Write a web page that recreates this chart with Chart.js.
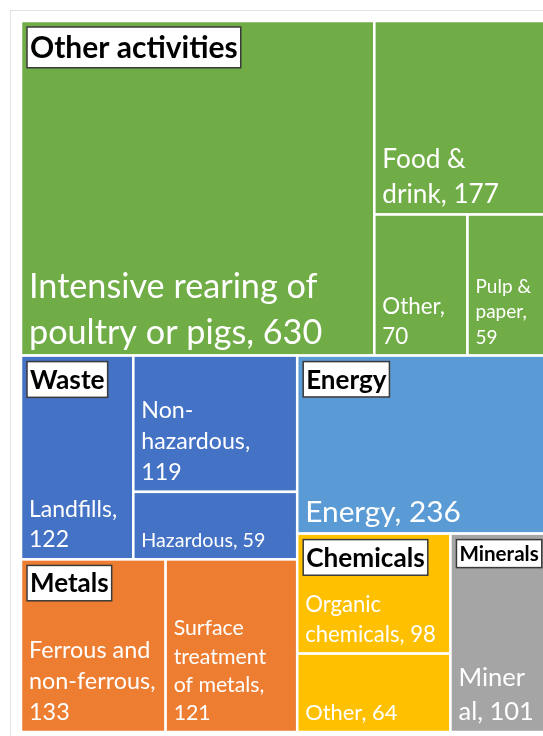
<!DOCTYPE html>
<html><head><meta charset="utf-8">
<script src="https://cdn.jsdelivr.net/npm/chart.js@4"></script>
<style>
html,body{margin:0;padding:0;background:#fff;overflow:hidden;width:543px;height:736px}
#frame{position:absolute;left:10px;top:10px;width:600px;height:800px;border:1px solid #e2e2e2}
#wrap{position:absolute;left:21px;top:21px;width:525px;height:711px}
</style></head><body>
<div id="frame"></div>
<div id="wrap"><canvas id="c"></canvas></div>
<script>
// ---- data ----
const groups = ["Other activities", "Waste", "Energy", "Metals", "Chemicals", "Minerals"];
const leafNames = ["Intensive rearing of\npoultry or pigs", "Food &\ndrink", "Other", "Pulp &\npaper",
  "Landfills", "Non-\nhazardous", "Hazardous", "Energy",
  "Ferrous and\nnon-ferrous", "Surface\ntreatment\nof metals",
  "Organic\nchemicals", "Other", "Miner\nal"];
const leafGroups = ["Other activities", "Other activities", "Other activities", "Other activities",
  "Waste", "Waste", "Waste", "Energy", "Metals", "Metals", "Chemicals", "Chemicals", "Minerals"];
const leafValues = [630, 177, 70, 59, 122, 119, 59, 236, 133, 121, 98, 64, 101];
const valueOnOwnLine = [false, false, true, true, true, true, false, false, true, true, false, false, false];

// ---- layout structure (split directions only) ----
const groupLayouts = {
  "Other activities": {dir: 'h', children: [0, {dir: 'v', children: [1, {dir: 'h', children: [2, 3]}]}]},
  "Waste": {dir: 'h', children: [4, {dir: 'v', children: [5, 6]}]},
  "Energy": 7,
  "Metals": {dir: 'h', children: [8, 9]},
  "Chemicals": {dir: 'v', children: [10, 11]},
  "Minerals": 12
};
const rootLayout = {dir: 'v', children: ["Other activities",
  {dir: 'h', children: [{dir: 'v', children: ["Waste", "Metals"]},
                        {dir: 'v', children: ["Energy", {dir: 'h', children: ["Chemicals", "Minerals"]}]}]}]};

// ---- styles ----
const groupColors = {"Other activities": "#70AD47", "Waste": "#4472C4", "Energy": "#5B9BD5",
  "Metals": "#ED7D31", "Chemicals": "#FFC000", "Minerals": "#A5A5A5"};
const leafFontSize = [37.2, 28.5, 24.4, 20.6, 25, 25.2, 21.4, 32.4, 25.4, 23.1, 24, 23.8, 27.7];
const headerFontSize = {"Other activities": 32.6, "Waste": 28.6, "Energy": 28.3, "Metals": 28.3, "Chemicals": 28.5, "Minerals": 22.4};
const K = 0.92;           // Lato vs Calibri width factor
const FONT = "Lato, 'Open Sans', sans-serif";

// ---- layout computation ----
function nodeValue(n) {
  if (typeof n === 'number') return leafValues[n];
  if (typeof n === 'string') return nodeValue(groupLayouts[n]);
  return n.children.reduce((s, c) => s + nodeValue(c), 0);
}
const leafRects = [], groupRects = {};
function layout(n, x0, y0, x1, y1) {
  if (typeof n === 'number') { leafRects[n] = {x0, y0, x1, y1}; return; }
  if (typeof n === 'string') { groupRects[n] = {x0, y0, x1, y1}; layout(groupLayouts[n], x0, y0, x1, y1); return; }
  const tot = nodeValue(n);
  let pos = n.dir === 'h' ? x0 : y0;
  n.children.forEach(c => {
    const f = nodeValue(c) / tot;
    if (n.dir === 'h') { const w = (x1 - x0) * f; layout(c, pos, y0, pos + w, y1); pos += w; }
    else { const h = (y1 - y0) * f; layout(c, x0, pos, x1, pos + h); pos += h; }
  });
}
layout(rootLayout, 0, 0, 1, 1);

const treemapPlugin = {
  id: 'treemap',
  afterDatasetsDraw(chart) {
    const ctx = chart.ctx, xs = chart.scales.x, ys = chart.scales.y;
    const px = r => ({l: xs.getPixelForValue(r.x0), r: xs.getPixelForValue(r.x1),
                      t: ys.getPixelForValue(r.y0), b: ys.getPixelForValue(r.y1)});
    ctx.save();
    // cells
    leafRects.forEach((r, i) => {
      const p = px(r);
      ctx.fillStyle = groupColors[leafGroups[i]];
      ctx.fillRect(p.l, p.t, p.r - p.l, p.b - p.t);
      ctx.strokeStyle = '#ffffff'; ctx.lineWidth = 2.5;
      ctx.strokeRect(p.l, p.t, p.r - p.l, p.b - p.t);
    });
    // leaf labels
    ctx.textAlign = 'left'; ctx.textBaseline = 'alphabetic';
    leafRects.forEach((r, i) => {
      const p = px(r);
      const lines = leafNames[i].split('\n');
      if (valueOnOwnLine[i]) { lines[lines.length - 1] += ','; lines.push(String(leafValues[i])); }
      else lines[lines.length - 1] += ', ' + leafValues[i];
      const s = leafFontSize[i];
      ctx.font = (s * K).toFixed(1) + 'px ' + FONT;
      ctx.fillStyle = '#ffffff';
      const lh = s * 1.22;
      let y = p.b - 12;
      for (let j = lines.length - 1; j >= 0; j--) { ctx.fillText(lines[j], p.l + 8, y); y -= lh; }
    });
    // group headers
    groups.forEach(g => {
      const p = px(groupRects[g]);
      const s = headerFontSize[g];
      ctx.font = 'bold ' + (s * K).toFixed(1) + 'px ' + FONT;
      const w = ctx.measureText(g).width;
      const bx = p.l + 6, by = p.t + 6, bw = w + 6, bh = s * 1.25;
      ctx.fillStyle = '#ffffff'; ctx.fillRect(bx, by, bw, bh);
      ctx.strokeStyle = '#3a3a3a'; ctx.lineWidth = 1.5; ctx.strokeRect(bx, by, bw, bh);
      ctx.fillStyle = '#000000'; ctx.textBaseline = 'middle';
      ctx.fillText(g, bx + 3, by + bh / 2 + 1);
    });
    ctx.restore();
  }
};

new Chart(document.getElementById('c'), {
  type: 'scatter',
  data: {datasets: [{data: leafRects.map(r => ({x: (r.x0 + r.x1) / 2, y: (r.y0 + r.y1) / 2})), pointRadius: 0}]},
  options: {
    responsive: true, maintainAspectRatio: false, animation: false, events: [],
    layout: {padding: 0},
    plugins: {legend: {display: false}, tooltip: {enabled: false}},
    scales: {x: {type: 'linear', min: 0, max: 1, display: false},
             y: {type: 'linear', min: 0, max: 1, reverse: true, display: false}}
  },
  plugins: [treemapPlugin]
});
</script>
</body></html>
